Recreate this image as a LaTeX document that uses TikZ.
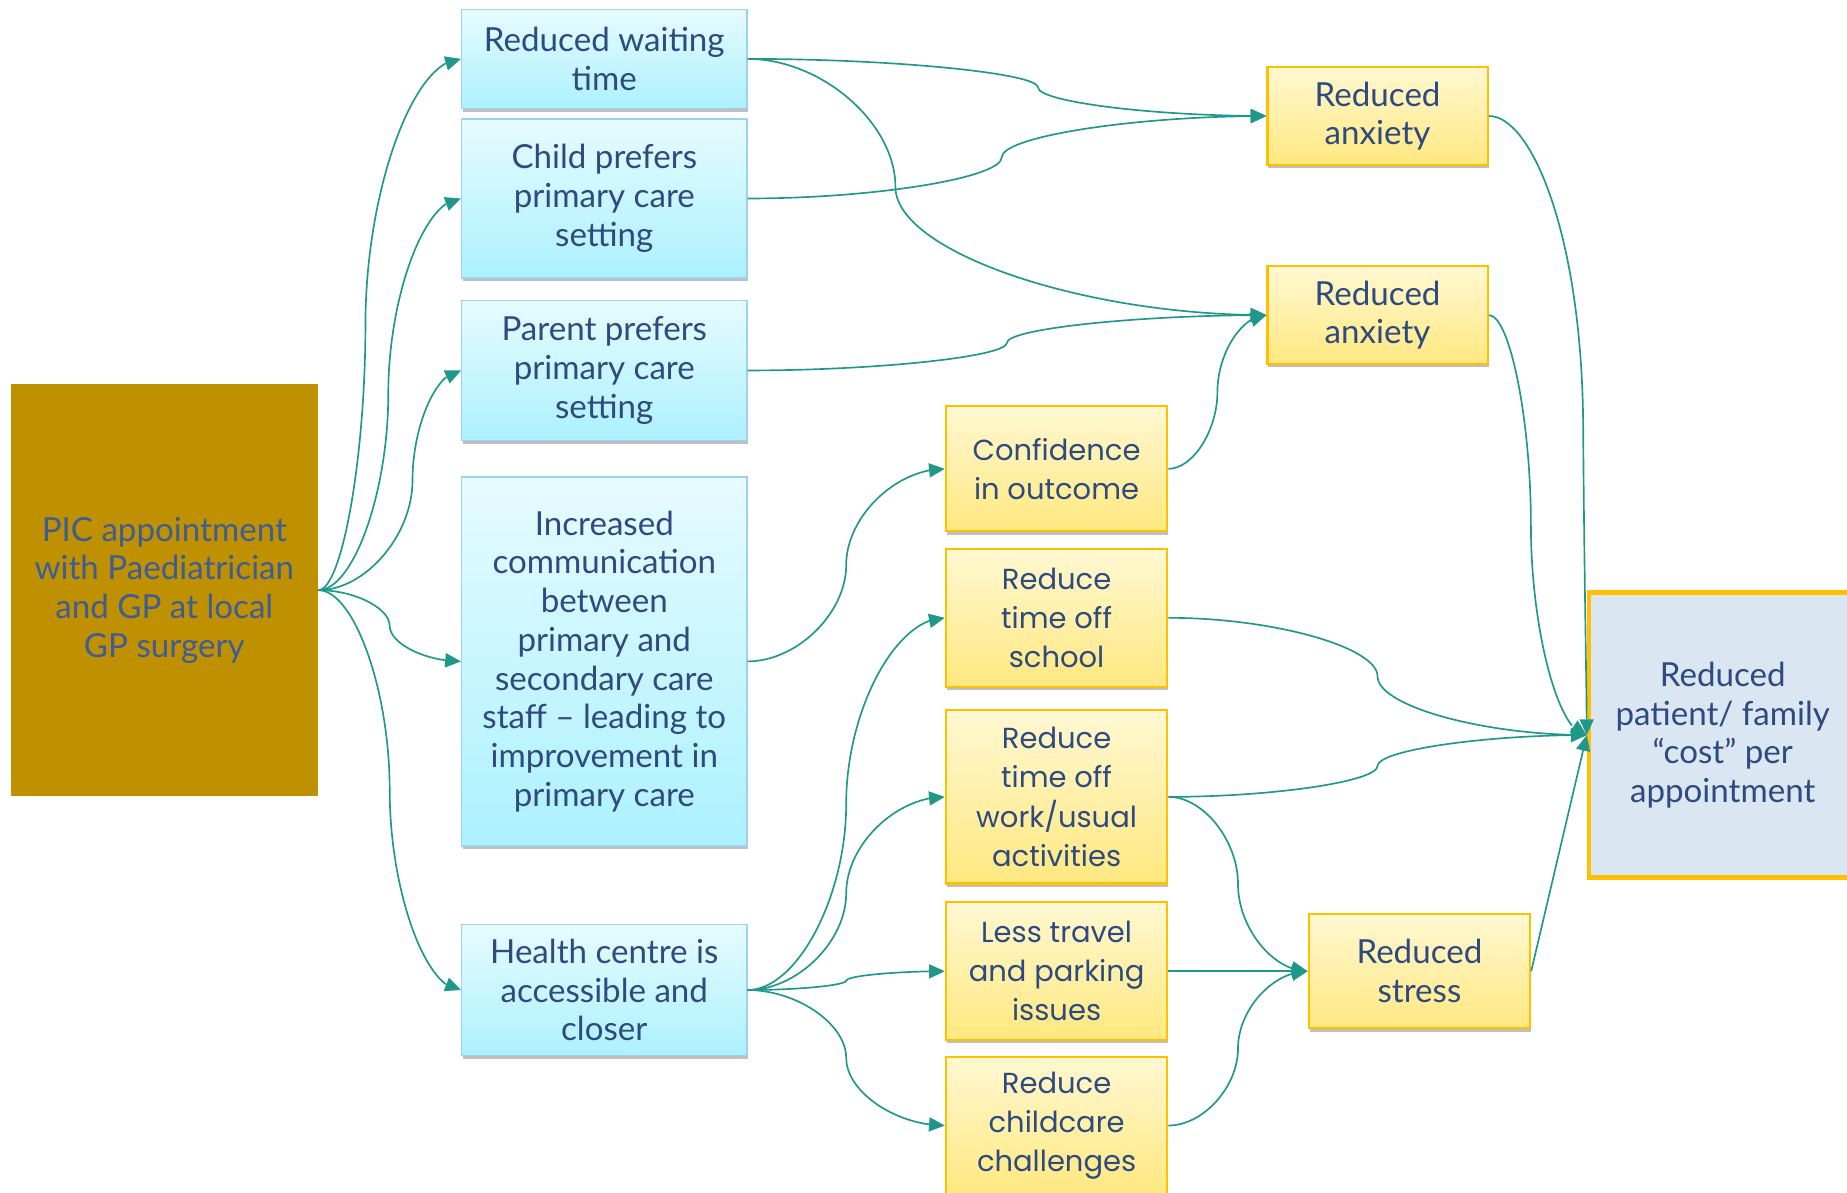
\documentclass[tikz,border=0pt]{standalone}
\usepackage{fontspec}
\setmainfont{Lato}
\newfontfamily\popfont{Poppins}
\usetikzlibrary{calc,shadows,arrows.meta,bending}
\definecolor{conncol}{RGB}{31,152,139}
\definecolor{txt}{RGB}{46,74,126}
\definecolor{pictxt}{RGB}{62,92,150}
\definecolor{goldfill}{RGB}{191,144,0}
\definecolor{bluetop}{RGB}{230,251,255}
\definecolor{bluebot}{RGB}{172,241,254}
\definecolor{blueedge}{RGB}{156,210,238}
\definecolor{yeltop}{RGB}{255,248,210}
\definecolor{yelbot}{RGB}{255,232,128}
\definecolor{yeledge}{RGB}{255,192,0}
\definecolor{finalfill}{RGB}{218,230,242}
\tikzset{
  base/.style={inner sep=0pt, align=center, text=txt, font=\fontsize{20}{23.4}\selectfont},
  shad/.style={drop shadow={shadow xshift=0.6pt, shadow yshift=-2pt, opacity=0.25, fill=black}},
  bluebox/.style={base, shad, draw=blueedge, line width=0.9pt, top color=bluetop, bottom color=bluebot},
  yelbox/.style={base, shad, draw=yeledge, line width=1.3pt, top color=yeltop, bottom color=yelbot},
  midbox/.style={yelbox, font=\popfont\fontsize{17.5}{23.6}\selectfont},
  picbox/.style={base, fill=goldfill, text=pictxt},
  finalbox/.style={base, fill=finalfill, draw=yeledge, line width=2.8pt},
  conn/.style={draw=conncol, line width=1pt, -{Triangle[length=9.5pt,width=8.5pt,flex]}, fill=none},
  cc/.style={to path={let \p1=(\tikztostart), \p2=(\tikztotarget),
      \p3=($(\p1)!#1!(\p2)$), \p4=($(\p1)!0.5!(\p2)$),
      \p5=($(\p1)!0.25!(\p2)$), \p6=($(\p1)!0.75!(\p2)$) in
      .. controls ($(\p1)!0.5!(\x3,\y1)$) and (\x3,\y5) .. (\x3,\y4)
      .. controls (\x3,\y6) and ($(\x3,\y2)!0.5!(\p2)$) .. (\p2) \tikztonodes}},
  cc/.default=0.5
}
% box: style, name, x1, y1, x2, y2, text
\newcommand\bx[7]{\node[#1, minimum width={(#5-#3)*0.025cm}, minimum height={(#6-#4)*0.025cm}] (#2) at ({(#3+#5)/2},{(#4+#6)/2}) {#7};}
\begin{document}
\begin{tikzpicture}[x=0.025cm, y=-0.025cm]
\useasboundingbox (0,0) rectangle (1568,1012);
\clip (0,0) rectangle (1568,1012);
\fill[white] (0,0) rectangle (1568,1012);
% left
\bx{picbox}{pic}{9}{326}{270}{676}{PIC appointment\\with Paediatrician\\and GP at local\\GP surgery}
% blue column
\bx{bluebox}{rwt}{392}{8}{634}{92}{Reduced waiting\\time}
\bx{bluebox}{cpp}{392}{101}{634}{236}{Child prefers\\primary care\\setting}
\bx{bluebox}{ppp}{392}{255}{634}{374}{Parent prefers\\primary care\\setting}
\bx{bluebox}{icom}{392}{405}{634}{718}{Increased\\communication\\between\\primary and\\secondary care\\staff -- leading to\\improvement in\\primary care}
\bx{bluebox}{hc}{392}{785}{634}{896}{Health centre is\\accessible and\\closer}
% middle yellow column
\bx{midbox}{conf}{803}{345}{991}{451}{Confidence\\in outcome}
\bx{midbox}{school}{803}{466}{991}{583}{Reduce\\time off\\school}
\bx{midbox}{work}{803}{603}{991}{750}{Reduce\\time off\\work/usual\\activities}
\bx{midbox}{travel}{803}{766}{991}{883}{Less travel\\and parking\\issues}
\bx{midbox}{child}{803}{897}{991}{1014}{Reduce\\childcare\\challenges}
% right column
\bx{yelbox}{ra1}{1076}{57}{1263}{140}{Reduced\\anxiety}
\bx{yelbox}{ra2}{1076}{226}{1263}{309}{Reduced\\anxiety}
\bx{yelbox}{stress}{1111}{776}{1299}{873}{Reduced\\stress}
\bx{finalbox}{final}{1349}{503}{1576}{745}{Reduced\\patient/ family\\``cost'' per\\appointment}
% connectors
\draw[conn] (pic.east) to[cc=0.33] (rwt.west);
\draw[conn] (pic.east) to[cc=0.49] (cpp.west);
\draw[conn] (pic.east) to[cc=0.66] (ppp.west);
\draw[conn] (pic.east) to[cc] (icom.west);
\draw[conn] (pic.east) to[cc] (hc.west);
\draw[conn] (rwt.east) to[cc=0.56] (ra1.west);
\draw[conn] (rwt.east) to[cc=0.285] (ra2.west);
\draw[conn] (cpp.east) to[cc=0.49] (ra1.west);
\draw[conn] (ppp.east) to[cc] (ra2.west);
\draw[conn] (icom.east) to[cc] (conf.west);
\draw[conn] (conf.east) to[cc] (ra2.west);
\draw[conn] (hc.east) to[cc] (school.west);
\draw[conn] (hc.east) to[cc] (work.west);
\draw[conn] (hc.east) to[cc] (travel.west);
\draw[conn] (hc.east) to[cc] (child.west);
\draw[conn] (school.east) to[cc] (final.west);
\draw[conn] (work.east) to[cc] (final.west);
\draw[conn] (work.east) to[cc] (stress.west);
\draw[conn] (travel.east) -- (stress.west);
\draw[conn] (child.east) to[cc] (stress.west);
\draw[conn] (ra1.east) .. controls (1300,98) and (1343,200) .. (1344,361) .. controls (1345,500) and (1347,580) .. (final.west);
\draw[conn] (ra2.east) to[cc=0.43] (final.west);
\draw[conn] (stress.east) -- (final.west);
\end{tikzpicture}
\end{document}
